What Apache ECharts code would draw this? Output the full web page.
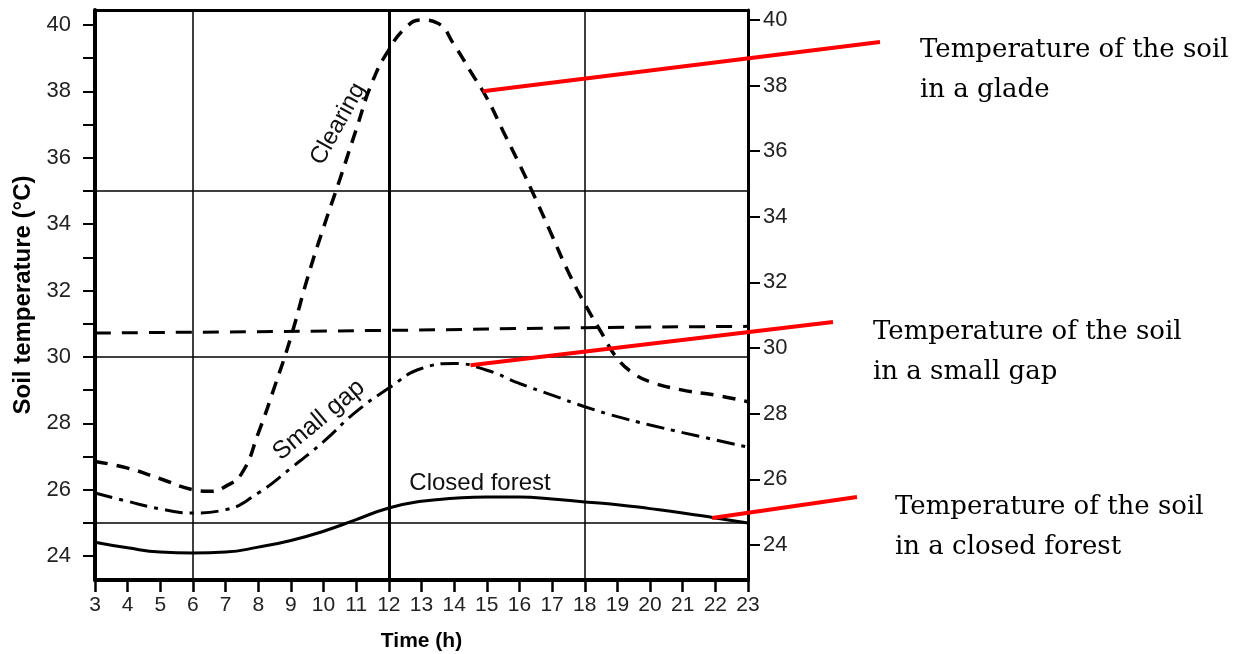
<!DOCTYPE html>
<html>
<head>
<meta charset="utf-8">
<script src="https://cdn.jsdelivr.net/npm/echarts@6/dist/echarts.min.js"></script>
<style>
html,body{margin:0;padding:0;background:#fff;}
#chart{width:1242px;height:654px;}
</style>
</head>
<body>
<div id="chart"></div>
<script>
// ---- data ----
const clearingHours = [3,4,5,6,6.5,7,7.5,8,8.5,9,9.5,10,10.5,11,11.5,12,12.5,13,13.5,14,14.5,15,15.5,16,16.5,17,17.5,18,18.5,19,19.5,20,21,22,23];
const clearingTemp  = [26.85,26.65,26.33,26.0,25.95,26.1,26.5,27.7,29.1,30.6,32.35,33.9,35.35,36.85,38.3,39.25,39.9,40.15,40.05,39.4,38.6,37.8,36.8,35.8,34.75,33.65,32.55,31.6,30.75,29.95,29.5,29.25,29.0,28.85,28.65];
const hours = [3,4,5,6,7,8,9,10,11,12,13,14,15,16,17,18,19,20,21,22,23];
const smallGapTemp = [25.9,25.65,25.42,25.3,25.4,25.9,26.65,27.45,28.35,29.06,29.65,29.8,29.6,29.2,28.85,28.5,28.2,27.95,27.72,27.5,27.28];
const closedForestTemp = [24.42,24.25,24.12,24.09,24.12,24.27,24.47,24.75,25.1,25.45,25.65,25.74,25.78,25.78,25.72,25.63,25.55,25.43,25.3,25.15,25.0];
const upperDashHours = [3,12,18,23];
const upperDashTemp = [30.72,30.8,30.88,30.92];
const gridHours = [6,12,18];
const gridTemps = [35,30,25];
const leftTickValues = [24,25,26,27,28,29,30,31,32,33,34,35,36,37,38,39,40];
const evenTickValues = [24,26,28,30,32,34,36,38,40];
const annotations = [
  {text:'Temperature of the soil\nin a glade', anchor:[14.88,38.0]},
  {text:'Temperature of the soil\nin a small gap', anchor:[14.5,29.75]},
  {text:'Temperature of the soil\nin a closed forest', anchor:[21.9,25.15]}
];

const pairs = (xs, ys) => xs.map((x,i)=>[x, ys[i]]);
const sans = "'Liberation Sans', Arial, sans-serif";

const chart = echarts.init(document.getElementById('chart'), null, {renderer:'canvas'});

const option = {
  animation:false,
  backgroundColor:'#fff',
  grid:{left:95, right:494, top:10, bottom:74, outerBoundsMode:'none', containLabel:false},
  xAxis:[{
    type:'value', min:3, max:23, interval:1, position:'bottom',
    axisLine:{show:true, onZero:false, lineStyle:{color:'#000', width:4}},
    axisTick:{show:true, length:12, lineStyle:{color:'#000', width:2.5}},
    axisLabel:{fontSize:21, margin:15, color:'#222', fontFamily:sans},
    splitLine:{show:false},
    name:'Time (h)', nameLocation:'middle', nameGap:51,
    nameTextStyle:{fontSize:21, fontWeight:'bold', color:'#000', fontFamily:sans}
  },{
    type:'value', min:3, max:23, interval:1, position:'top',
    axisLine:{show:true, onZero:false, lineStyle:{color:'#000', width:3}},
    axisTick:{show:false}, axisLabel:{show:false}, splitLine:{show:false}
  }],
  yAxis:[{
    type:'value', min:23.28, max:40.45, position:'left',
    axisLine:{show:true, onZero:false, lineStyle:{color:'#000', width:4}},
    axisTick:{show:true, length:12, customValues:leftTickValues, lineStyle:{color:'#000', width:2}},
    axisLabel:{fontSize:22, margin:24, color:'#222', fontFamily:sans, customValues:evenTickValues},
    splitLine:{show:false},
    name:'Soil temperature (°C)', nameLocation:'middle', nameGap:57, nameRotate:90,
    nameTextStyle:{fontSize:24, fontWeight:'bold', color:'#000', fontFamily:sans}
  },{
    type:'value', min:22.93, max:40.30, position:'right',
    axisLine:{show:true, onZero:false, lineStyle:{color:'#000', width:3}},
    axisTick:{show:true, length:12, customValues:evenTickValues, lineStyle:{color:'#000', width:2}},
    axisLabel:{fontSize:22, margin:15, color:'#222', fontFamily:sans, customValues:evenTickValues},
    splitLine:{show:false}
  }],
  series:[
    {
      name:'Closed forest', type:'line', data:pairs(hours, closedForestTemp),
      showSymbol:false, smooth:true, lineStyle:{color:'#000', width:3},
      markLine:{
        silent:true, symbol:['none','none'], label:{show:false},
        lineStyle:{color:'#000', type:'solid', width:1.5},
        data: gridHours.map(h=>({xAxis:h, lineStyle:{width: h===12?3:1.5, color:'#000', type:'solid'}}))
              .concat(gridTemps.map(t=>({yAxis:t})))
      }
    },
    {
      name:'Clearing', type:'line', data:pairs(clearingHours, clearingTemp),
      showSymbol:false, smooth:true, lineStyle:{color:'#000', width:3.5, type:[13,9]}
    },
    {
      name:'Upper', type:'line', data:pairs(upperDashHours, upperDashTemp),
      showSymbol:false, smooth:true, lineStyle:{color:'#000', width:3, type:[16,11]}
    },
    {
      name:'Small gap', type:'line', data:pairs(hours, smallGapTemp),
      showSymbol:false, smooth:true, lineStyle:{color:'#000', width:3, type:[18,7,4,7]}
    }
  ]
};
chart.setOption(option);

const deg = Math.PI/180;
const graphics = [
  {type:'text', x:338, y:124, rotation:61*deg, style:{text:'Clearing', font:"24px "+sans, fill:'#111', align:'center', verticalAlign:'middle'}},
  {type:'text', x:319, y:420, rotation:40*deg, style:{text:'Small gap', font:"25px "+sans, fill:'#111', align:'center', verticalAlign:'middle'}},
  {type:'text', x:480, y:483, style:{text:'Closed forest', font:"24px "+sans, fill:'#111', align:'center', verticalAlign:'middle'}}
];
const ends = [[880,42],[833,322],[857,497]];
const textPos = [[920,30],[873,312],[895,487]];
annotations.forEach((a,i)=>{
  const p = chart.convertToPixel({xAxisIndex:0, yAxisIndex:0}, a.anchor);
  graphics.push({type:'line', shape:{x1:p[0], y1:p[1], x2:ends[i][0], y2:ends[i][1]}, style:{stroke:'#ff0000', lineWidth:4}, z:10});
  graphics.push({type:'text', x:textPos[i][0], y:textPos[i][1], style:{text:a.text, font:"26px 'DejaVu Serif', serif", fill:'#000', lineHeight:40, align:'left', verticalAlign:'top'}});
});
chart.setOption({graphic:graphics});
</script>
</body>
</html>
